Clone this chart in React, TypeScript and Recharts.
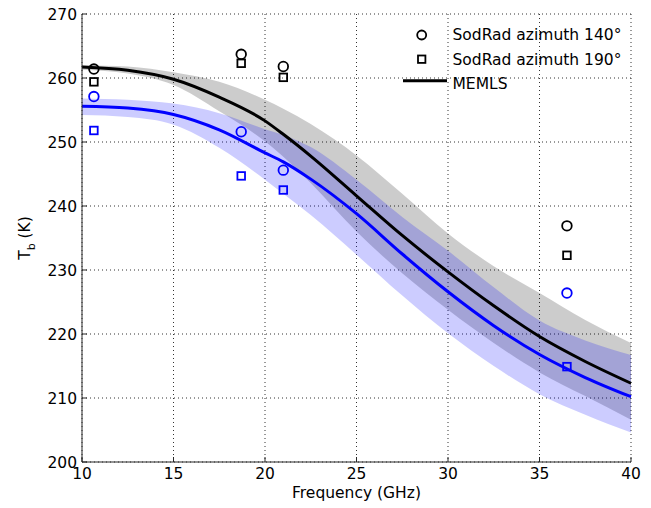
import React from "react";
import { ComposedChart, Area, Line, Scatter, XAxis, YAxis, CartesianGrid } from "recharts";

// MEMLS model curves (GHz -> K)
const freq = [10, 12.5, 15, 17.5, 20, 21, 22.5, 25, 27.5, 30, 32.5, 35, 37.5, 40];
const memlsBlack = [261.7, 261.2, 259.8, 257.0, 253.3, 251.2, 247.8, 241.6, 235.4, 229.7, 224.4, 219.6, 215.7, 212.3];
const blackLow = [261.3, 260.7, 258.9, 254.8, 250.1, 247.7, 243.6, 236.0, 229.5, 223.8, 218.6, 214.0, 210.3, 206.6];
const blackHigh = [262.0, 261.8, 260.9, 259.4, 256.6, 255.2, 252.8, 247.9, 241.9, 235.7, 230.6, 226.4, 222.2, 218.6];
const memlsBlue = [255.6, 255.3, 254.3, 251.9, 248.3, 246.9, 244.2, 238.8, 232.5, 226.6, 221.3, 216.8, 213.2, 210.2];
const blueLow = [254.2, 253.9, 252.7, 249.1, 244.1, 241.9, 238.6, 232.4, 226.0, 220.1, 215.0, 210.6, 207.4, 204.6];
const blueHigh = [256.8, 256.6, 256.0, 254.5, 252.0, 251.1, 249.2, 244.1, 238.3, 233.0, 227.3, 222.1, 219.0, 216.7];

// SodRad observations
const obsFreq = [10.65, 18.7, 21.0, 36.5];
const black140 = [261.4, 263.7, 261.8, 236.9];
const black190 = [259.4, 262.3, 260.1, 232.3];
const blue140 = [257.1, 251.6, 245.6, 226.4];
const blue190 = [251.8, 244.7, 242.5, 214.9];

const xTicks = [10, 15, 20, 25, 30, 35, 40];
const yTicks = [200, 210, 220, 230, 240, 250, 260, 270];

const FONT = '"DejaVu Sans", "Liberation Sans", Arial, sans-serif';
const FS = 15.5;
const AXIS = "#262626";

const curves = freq.map((f, i) => ({
  f,
  black: memlsBlack[i],
  blackBand: [blackLow[i], blackHigh[i]],
  blue: memlsBlue[i],
  blueBand: [blueLow[i], blueHigh[i]],
}));

const pts = (vals: number[]) => obsFreq.map((f, i) => ({ f, tb: vals[i] }));

const circle = (color: string) => (p: any) =>
  <circle cx={p.cx} cy={p.cy} r={4.8} fill="none" stroke={color} strokeWidth={1.8} />;
const square = (color: string) => (p: any) =>
  <rect x={p.cx - 3.8} y={p.cy - 3.8} width={7.6} height={7.6} fill="none" stroke={color} strokeWidth={1.8} />;

const XTick = (p: any) => (
  <g>
    <line x1={p.x} x2={p.x} y1={p.y - 3} y2={p.y - 8} stroke={AXIS} />
    <text x={p.x} y={p.y} dy={14} textAnchor="middle" fontSize={FS} fill="#000" fontFamily={FONT}>
      {p.payload.value}
    </text>
  </g>
);

const YTick = (p: any) => (
  <g>
    <line x1={p.x + 5} x2={p.x + 10} y1={p.y} y2={p.y} stroke={AXIS} />
    <text x={p.x} y={p.y} dy="0.36em" textAnchor="end" fontSize={FS} fill="#000" fontFamily={FONT}>
      {p.payload.value}
    </text>
  </g>
);

const XLabel = (p: any) => {
  const vb = p.viewBox;
  return (
    <text x={vb.x + vb.width / 2} y={vb.y + 36} textAnchor="middle" fontSize={FS} fill="#000" fontFamily={FONT}>
      Frequency (GHz)
    </text>
  );
};

const YLabel = (p: any) => {
  const vb = p.viewBox;
  const cx = vb.x + 24;
  const cy = vb.y + vb.height / 2;
  return (
    <text x={cx} y={cy} transform={`rotate(-90 ${cx} ${cy})`} textAnchor="middle" fontSize={FS} fill="#000" fontFamily={FONT} dy="0.36em">
      T<tspan fontSize={11} dy={5}>b</tspan>
      <tspan dy={-5}> (K)</tspan>
    </text>
  );
};

export default function App() {
  return (
    <div style={{ position: "absolute", left: 0, top: 0, width: 651, height: 508, background: "#fff", fontFamily: FONT }}>
      <ComposedChart width={651} height={508} data={curves} margin={{ top: 14, right: 20, bottom: 0, left: 0 }}>
        <CartesianGrid stroke="#333" strokeDasharray="1 3" />
        <XAxis
          type="number"
          dataKey="f"
          domain={[10, 40]}
          ticks={xTicks}
          height={46}
          tickLine={false}
          tickSize={0}
          tickMargin={3}
          tick={XTick}
          axisLine={{ stroke: AXIS }}
          label={{ content: XLabel }}
        />
        <YAxis
          type="number"
          domain={[200, 270]}
          ticks={yTicks}
          width={82}
          tickLine={false}
          tickSize={0}
          tickMargin={5}
          tick={YTick}
          axisLine={{ stroke: AXIS }}
          label={{ content: YLabel }}
        />
        <Area dataKey="blackBand" type="monotone" stroke="none" fill="#000" fillOpacity={0.2} isAnimationActive={false} />
        <Area dataKey="blueBand" type="monotone" stroke="none" fill="#0000ff" fillOpacity={0.2} isAnimationActive={false} />
        <Line dataKey="black" type="monotone" stroke="#000" strokeWidth={3} dot={false} isAnimationActive={false} />
        <Line dataKey="blue" type="monotone" stroke="#0000ff" strokeWidth={3} dot={false} isAnimationActive={false} />
        <Scatter data={pts(black140)} dataKey="tb" shape={circle("#000")} isAnimationActive={false} />
        <Scatter data={pts(black190)} dataKey="tb" shape={square("#000")} isAnimationActive={false} />
        <Scatter data={pts(blue140)} dataKey="tb" shape={circle("#0000ff")} isAnimationActive={false} />
        <Scatter data={pts(blue190)} dataKey="tb" shape={square("#0000ff")} isAnimationActive={false} />
      </ComposedChart>
      <svg width={651} height={508} style={{ position: "absolute", left: 0, top: 0, pointerEvents: "none" }}>
        <circle cx={421.7} cy={35} r={4.5} fill="none" stroke="#000" strokeWidth={1.8} />
        <rect x={418} y={55.5} width={7.4} height={7.4} fill="none" stroke="#000" strokeWidth={1.8} />
        <line x1={403} x2={447} y1={80.7} y2={80.7} stroke="#000" strokeWidth={3} />
        <text x={452.5} y={39.8} fontSize={FS} fontFamily={FONT} fill="#000">SodRad azimuth 140°</text>
        <text x={452.5} y={64.5} fontSize={FS} fontFamily={FONT} fill="#000">SodRad azimuth 190°</text>
        <text x={452.5} y={89.2} fontSize={FS} fontFamily={FONT} fill="#000">MEMLS</text>
      </svg>
    </div>
  );
}
